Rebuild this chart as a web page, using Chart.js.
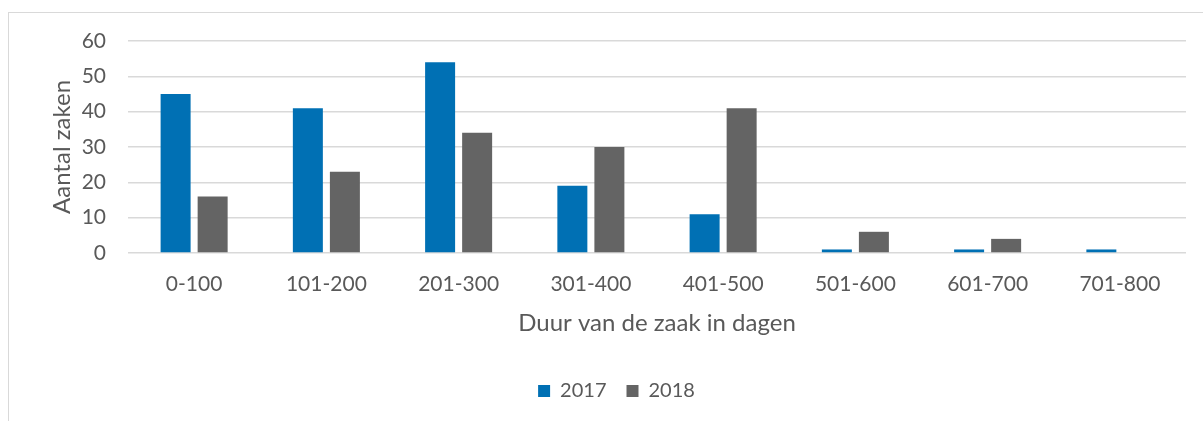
<!DOCTYPE html>
<html>
<head>
<meta charset="utf-8">
<script src="https://cdn.jsdelivr.net/npm/chart.js@4"></script>
<style>
  html, body { margin: 0; padding: 0; background: #fff; }
  #frame { position: absolute; left: 8px; top: 12px; width: 1220px; height: 440px; border: 1px solid #d9d9d9; }
  #wrap { position: absolute; left: 0; top: 0; width: 1203px; height: 421px; }
</style>
</head>
<body>
<div id="frame"></div>
<div id="wrap"><canvas id="myChart"></canvas></div>
<script>
/* duur van zaken per jaar */
const categories = ['0-100', '101-200', '201-300', '301-400', '401-500', '501-600', '601-700', '701-800'];
const values2017 = [45, 41, 54, 19, 11, 1, 1, 1];
const values2018 = [16, 23, 34, 30, 41, 6, 4, 0];
const yTicks = [0, 10, 20, 30, 40, 50, 60];

const textColor = '#595959';
const fontFamily = 'Lato, "Open Sans", sans-serif';

// legende iets naar rechts, zoals in het origineel
const legendShift = {
    id: 'legendShift',
    beforeDraw: function (chart) {
        chart.legend.left = 47;
    }
};

let ctx = document.getElementById('myChart').getContext('2d');

let myChart = new Chart(ctx, {
    type: 'bar',
    data: {
        labels: categories,
        datasets: [{
            label: '2017',
            data: values2017,
            backgroundColor: '#0070b4'
        }, {
            label: '2018',
            data: values2018,
            backgroundColor: '#646464'
        }]
    },
    plugins: [legendShift],
    options: {
        responsive: true,
        maintainAspectRatio: false,
        animation: false,
        categoryPercentage: 0.56,
        barPercentage: 0.81,
        layout: {
            padding: { top: 41, right: 17, left: 0, bottom: 10 }
        },
        scales: {
            x: {
                grid: { display: false, drawTicks: false },
                border: { display: false },
                ticks: { color: textColor, font: { family: fontFamily, size: 21 }, padding: 19, maxRotation: 0 },
                title: {
                    display: true,
                    text: 'Duur van de zaak in dagen',
                    color: textColor,
                    font: { family: fontFamily, size: 24 },
                    padding: { top: -7, bottom: 23 }
                }
            },
            y: {
                min: 0,
                max: 60,
                afterFit: function (scale) { scale.width = 128; },
                afterBuildTicks: function (scale) {
                    scale.ticks = yTicks.map(v => ({ value: v }));
                },
                grid: { color: '#d9d9d9', lineWidth: 1.5, drawTicks: false },
                border: { display: false },
                ticks: { color: textColor, font: { family: fontFamily, size: 21 }, padding: 22 },
                title: {
                    display: true,
                    text: 'Aantal zaken',
                    color: textColor,
                    font: { family: fontFamily, size: 24 },
                    padding: { top: 48, bottom: 4 }
                }
            }
        },
        plugins: {
            legend: {
                position: 'bottom',
                labels: {
                    color: textColor,
                    font: { family: fontFamily, size: 20 },
                    boxWidth: 12,
                    boxHeight: 12,
                    padding: 20
                }
            },
            tooltip: { enabled: false }
        }
    }
});
</script>
</body>
</html>
